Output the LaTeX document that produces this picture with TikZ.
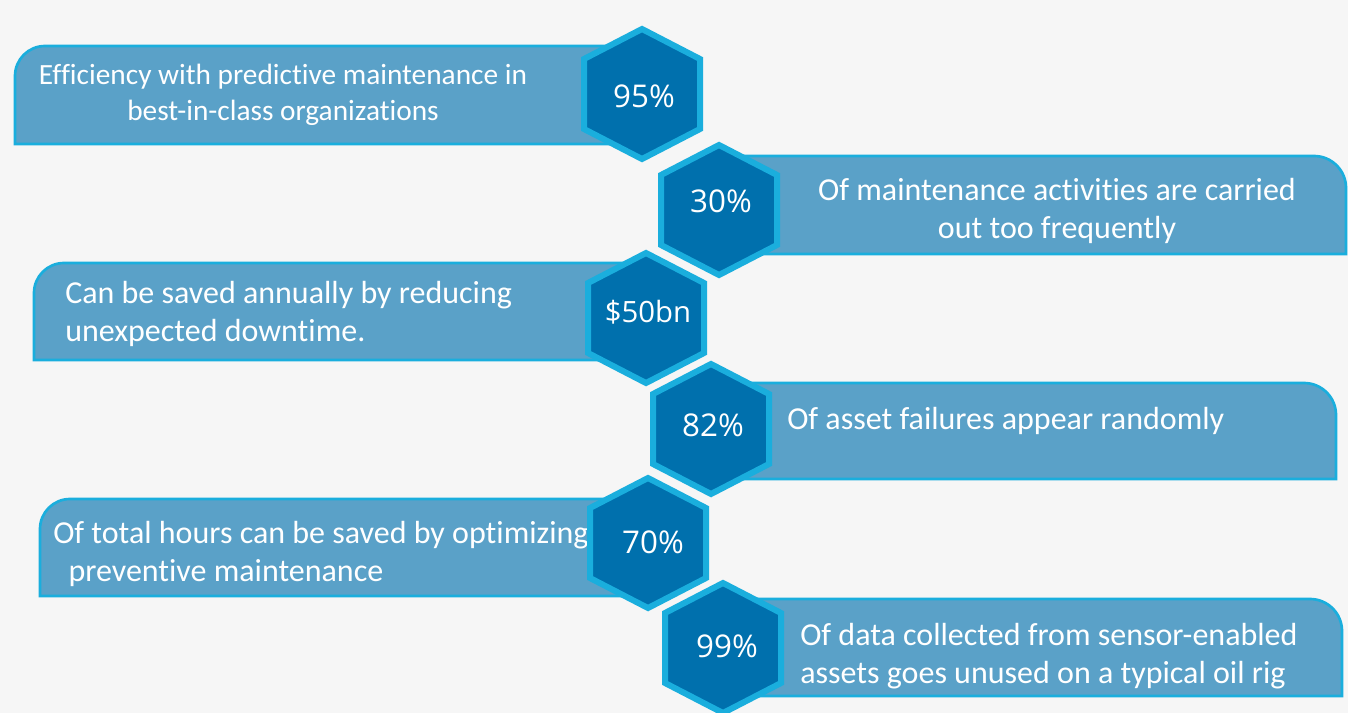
\documentclass[tikz,border=0pt]{standalone}
\usepackage{fontspec}
\setmainfont{Carlito}[Ligatures=NoCommon]
\newfontfamily\numfont{Open Sans}
\definecolor{bgc}{RGB}{246,246,246}
\definecolor{bannerfill}{RGB}{90,161,200}
\definecolor{bannerline}{RGB}{26,174,221}
\definecolor{hexfill}{RGB}{0,112,173}
\definecolor{hexline}{RGB}{26,174,221}
\newcommand\hexat[3]{\draw[hexa] (#2,#3) ++(0,-65) -- ++(58,30) -- ++(0,70) -- ++(-58,30) -- ++(-58,-30) -- ++(0,-70) -- cycle;
  \coordinate (#1) at (#2,#3);}
% left banner: x0, top, bottom ; right end hidden at 640
\newcommand\lbanner[3]{\draw[banner] (640,#3) -- (#1,#3) -- (#1,#2+30) arc[start angle=180, end angle=270, radius=30] -- (640,#2) -- cycle;}
% right banner: x1, top, bottom ; left end hidden at 720
\newcommand\rbanner[3]{\draw[banner] (720,#2) -- (#1-32,#2) arc[start angle=-90, end angle=0, radius=32] -- (#1,#3) -- (720,#3) -- cycle;}
\begin{document}
\begin{tikzpicture}[x=0.75pt,y=-0.75pt,
  banner/.style={fill=bannerfill, draw=bannerline, line width=2pt},
  hexa/.style={fill=hexfill, draw=hexline, line width=4.5pt, line join=miter},
  btext/.style={text=white, font=\fontsize{24}{28.5}\selectfont, inner sep=0pt},
  htext/.style={text=white, font=\numfont\fontsize{23.5}{26}\selectfont, inner sep=0pt}]
\fill[bgc] (0,0) rectangle (1348,713);
\useasboundingbox (0,0) rectangle (1348,713);
% left banners
\lbanner{15}{46}{144}
\lbanner{34}{263}{360}
\lbanner{40}{499}{596}
% right banners
\rbanner{1346}{156}{254}
\rbanner{1336}{383}{479}
\rbanner{1342}{599}{696}
% banner texts
\node[btext, align=center, font=\fontsize{22}{26.5}\selectfont] (t1) at (283,95) {Efficiency with predictive maintenance in\\best-in-class organizations};
\node[btext, align=center] (t2) at (1057,211) {Of maintenance activities are carried\\out too frequently};
\node[btext, align=left, anchor=west] (t3) at (65,314) {Can be saved annually by reducing\\unexpected downtime.};
\node[btext, align=left, anchor=west] (t4) at (787,421) {Of asset failures appear randomly};
\node[btext, align=left, anchor=west] (t5) at (53,554) {Of total hours can be saved by optimizing\\\hspace*{6pt} preventive maintenance};
\node[btext, align=left, anchor=west] (t6) at (800,656) {Of data collected from sensor-enabled\\assets goes unused on a typical oil rig};
% hexagons
\hexat{h1}{642}{94}
\hexat{h2}{719}{210}
\hexat{h3}{646}{318}
\hexat{h4}{711}{429}
\hexat{h5}{648}{543}
\hexat{h6}{723}{648}
\node[htext] (n1) at (644,96) {95\%};
\node[htext] (n2) at (721,201) {30\%};
\node[htext, font=\numfont\fontsize{22}{26}\selectfont] (n3) at (648,312) {\$50bn};
\node[htext] (n4) at (713,425) {82\%};
\node[htext] (n5) at (653,542) {70\%};
\node[htext] (n6) at (727,646) {99\%};
\end{tikzpicture}
\end{document}
